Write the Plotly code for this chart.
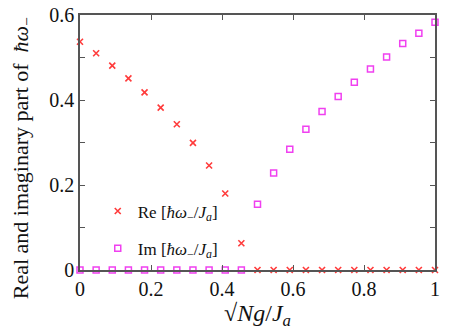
import plotly.graph_objects as go

# sqrt(N) g / J_a, 23 sample points
coupling = [i / 22 for i in range(23)]

re_omega = [0.537, 0.510, 0.481, 0.451, 0.418, 0.382, 0.343, 0.299, 0.246, 0.180, 0.063,
            0, 0, 0, 0, 0, 0, 0, 0, 0, 0, 0, 0]
im_omega = [0, 0, 0, 0, 0, 0, 0, 0, 0, 0, 0,
            0.155, 0.228, 0.284, 0.331, 0.373, 0.408, 0.442, 0.473, 0.501, 0.533, 0.557, 0.583]

x_ticks = [0, 0.2, 0.4, 0.6, 0.8, 1]
x_labels = ["0", "0.2", "0.4", "0.6", "0.8", "1"]
y_ticks = [0, 0.1, 0.2, 0.3, 0.4, 0.5, 0.6]
y_labels = ["0", "", "0.2", "", "0.4", "", "0.6"]

serif = "Liberation Serif"

fig = go.Figure()

fig.add_trace(go.Scatter(
    x=coupling, y=re_omega, mode="markers",
    name="Re [<i>ħω</i><sub>−</sub>/<i>J<sub>a</sub></i>]",
    legendgroup="re",
    marker=dict(symbol="x-thin", size=6, line=dict(color="#ff3b3b", width=1.6)),
    cliponaxis=False,
))
fig.add_trace(go.Scatter(
    x=coupling, y=im_omega, mode="markers",
    name="Im [<i>ħω</i><sub>−</sub>/<i>J<sub>a</sub></i>]",
    legendgroup="im",
    marker=dict(symbol="square-open", size=6, color="#f040f0", line=dict(width=1.5)),
    cliponaxis=False,
))

axis_style = dict(
    showline=True, mirror="ticks", linecolor="#555", linewidth=1.5,
    ticks="inside", ticklen=5, tickcolor="#555", tickwidth=1.2,
    showgrid=False, zeroline=False, automargin=False,
    ticklabeloverflow="allow",
    tickfont=dict(family=serif, size=20, color="#111"),
)

fig.update_layout(
    width=452, height=336,
    margin=dict(l=80, r=17, t=15, b=66),
    paper_bgcolor="white", plot_bgcolor="white",
    font=dict(family=serif, color="#111"),
    showlegend=True,
    legend=dict(
        x=0.05, y=0.3, xanchor="left", yanchor="top",
        bgcolor="rgba(0,0,0,0)", font=dict(family=serif, size=17),
        tracegroupgap=12, itemwidth=30,
    ),
    xaxis=dict(
        range=[0, 1], tickvals=x_ticks, ticktext=x_labels,
        title=dict(text="√<i>Ng</i>/<i>J<sub>a</sub></i>", font=dict(family=serif, size=24), standoff=4),
        **axis_style,
    ),
    yaxis=dict(
        range=[0, 0.6], tickvals=y_ticks, ticktext=y_labels,
        **axis_style,
    ),
    annotations=[dict(
        text="Real and imaginary part of  <i>ħω</i><sub>−</sub>",
        xref="paper", yref="paper", x=-0.165, y=0.44,
        xanchor="center", yanchor="middle", textangle=-90, showarrow=False,
        font=dict(family=serif, size=22, color="#111"),
    )],
)

# drop the default 8px page margin so the figure fills the window
fig.write_html("out.html", config={"displayModeBar": False},
               post_script="document.body.style.margin = '0';")
